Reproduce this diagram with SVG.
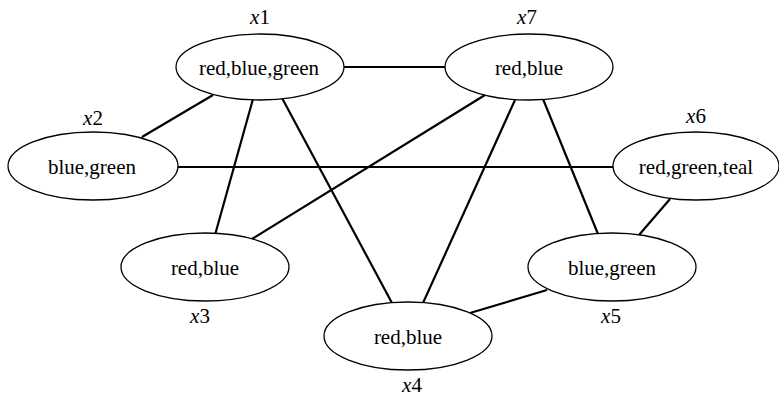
<svg xmlns="http://www.w3.org/2000/svg" width="779" height="397" viewBox="0 0 779 397">
<style>
  .node ellipse { fill: #ffffff; stroke: #000000; stroke-width: 1.3; }
  .node text { font-family: 'Liberation Serif', 'DejaVu Serif', serif; font-size: 21px; fill: #000000; text-anchor: middle; }
  .lbl .v { font-style: italic; }
  #edges line { stroke: #000000; stroke-width: 2.2; stroke-linecap: butt; }
</style>
<rect width="779" height="397" fill="#ffffff"/>
<g id="edges">
  <line x1="344" y1="67" x2="445" y2="67"/>
  <line x1="213" y1="95" x2="142" y2="137"/>
  <line x1="253" y1="99" x2="215" y2="235"/>
  <line x1="282" y1="98" x2="392" y2="303"/>
  <line x1="178" y1="167" x2="613" y2="167"/>
  <line x1="485" y1="95" x2="252" y2="239"/>
  <line x1="515" y1="100" x2="423" y2="303"/>
  <line x1="543" y1="99" x2="598" y2="234"/>
  <line x1="670" y1="199" x2="639" y2="235"/>
  <line x1="547" y1="290" x2="470" y2="313"/>
</g>
<g id="x1" class="node">
  <ellipse cx="260" cy="67" rx="84" ry="33"/>
  <text x="259" y="75" font-family="Liberation Serif, serif">red,blue,green</text>
  <text class="lbl" x="260" y="24" font-family="Liberation Serif, serif"><tspan class="v">x</tspan>1</text>
</g>
<g id="x7" class="node">
  <ellipse cx="529" cy="67" rx="84" ry="33"/>
  <text x="529" y="75">red,blue</text>
  <text class="lbl" x="527" y="24"><tspan class="v">x</tspan>7</text>
</g>
<g id="x2" class="node">
  <ellipse cx="93" cy="166" rx="85" ry="34"/>
  <text x="92" y="174">blue,green</text>
  <text class="lbl" x="93" y="125"><tspan class="v">x</tspan>2</text>
</g>
<g id="x6" class="node">
  <ellipse cx="696" cy="166" rx="83" ry="34"/>
  <text x="696" y="174">red,green,teal</text>
  <text class="lbl" x="696" y="123"><tspan class="v">x</tspan>6</text>
</g>
<g id="x3" class="node">
  <ellipse cx="205" cy="267" rx="84" ry="34"/>
  <text x="205" y="275">red,blue</text>
  <text class="lbl" x="200" y="323"><tspan class="v">x</tspan>3</text>
</g>
<g id="x5" class="node">
  <ellipse cx="612" cy="267" rx="84" ry="34"/>
  <text x="612" y="275">blue,green</text>
  <text class="lbl" x="611" y="323"><tspan class="v">x</tspan>5</text>
</g>
<g id="x4" class="node">
  <ellipse cx="408" cy="336" rx="84" ry="34"/>
  <text x="408" y="344">red,blue</text>
  <text class="lbl" x="412" y="392"><tspan class="v">x</tspan>4</text>
</g>
</svg>
